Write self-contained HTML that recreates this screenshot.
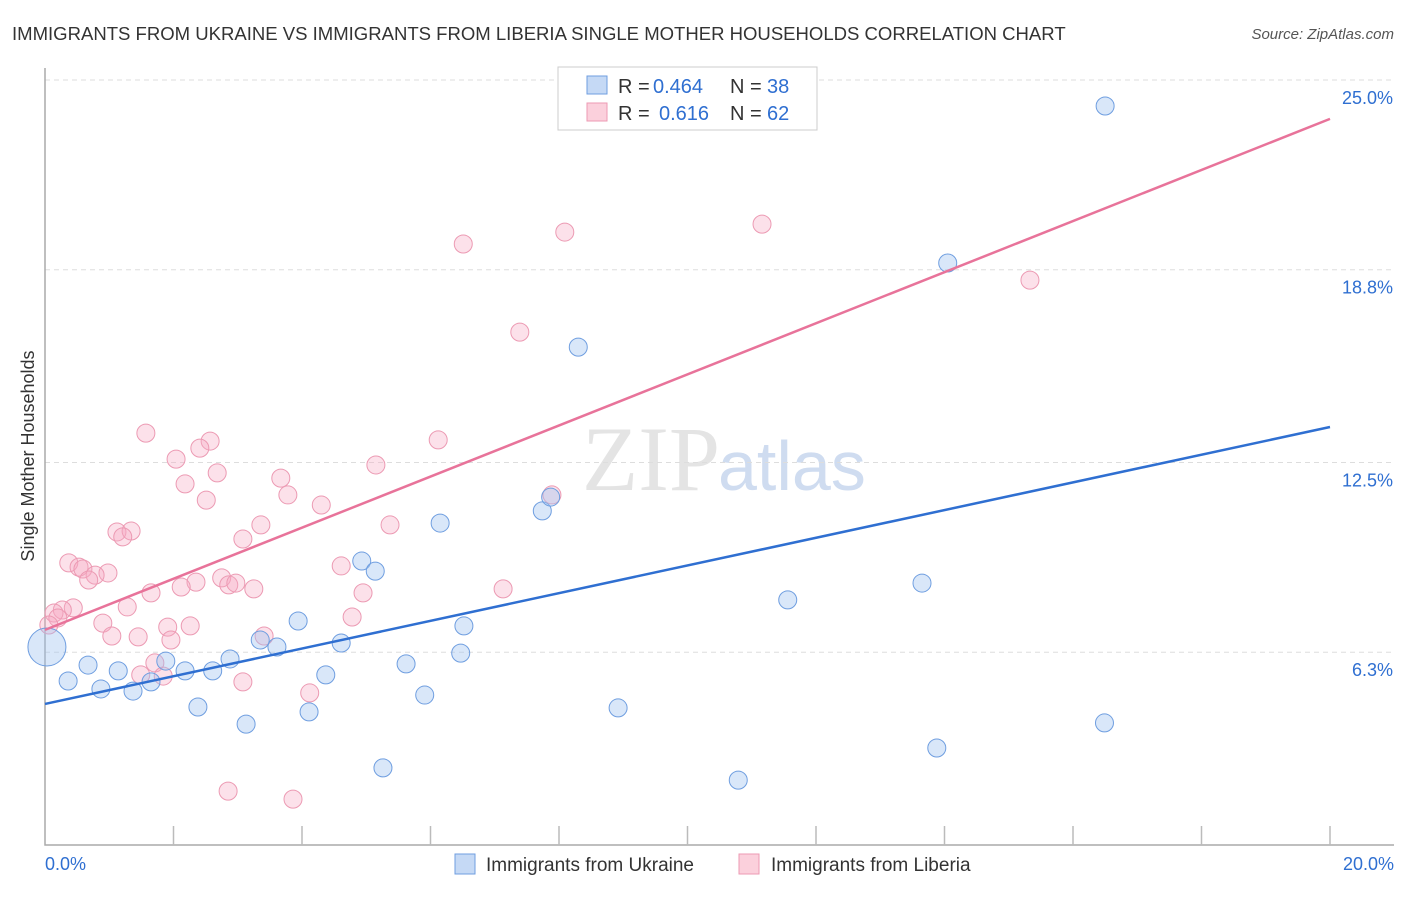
<!DOCTYPE html>
<html><head><meta charset="utf-8"><style>
body{margin:0;background:#fff;font-family:"Liberation Sans",Arial,sans-serif;}
svg text{font-family:"Liberation Sans",Arial,sans-serif;}
</style></head><body>
<svg id="c" width="1406" height="892" xmlns="http://www.w3.org/2000/svg">
<text x="12" y="40" font-size="18.55" fill="#333">IMMIGRANTS FROM UKRAINE VS IMMIGRANTS FROM LIBERIA SINGLE MOTHER HOUSEHOLDS CORRELATION CHART</text>
<text x="1394" y="39" font-size="15" fill="#555" font-style="italic" text-anchor="end">Source: ZipAtlas.com</text>
<text x="720" y="490" font-size="92" fill="#e4e4e4" text-anchor="end" style="font-family:'Liberation Serif',serif">ZIP</text>
<text x="718" y="490" font-size="70" fill="#cfdcf0">atlas</text>
<text transform="translate(34,456) rotate(-90)" font-size="18" fill="#333" text-anchor="middle">Single Mother Households</text>
<g id="grid"></g><g id="axes"></g><g id="pts"></g><g id="lines"></g>
<g>
<rect x="558" y="67" width="259" height="63" fill="#fff" stroke="#ccc"/>
<rect x="587" y="76" width="20" height="18" fill="#c5d9f5" stroke="#6f9ee0"/>
<rect x="587" y="103" width="20" height="18" fill="#fbd0dc" stroke="#ec9ab3"/>
<text x="618" y="93" font-size="20" fill="#333">R =</text>
<text x="653" y="93" font-size="20" fill="#2f6fd1">0.464</text>
<text x="730" y="93" font-size="20" fill="#333">N =</text>
<text x="767" y="93" font-size="20" fill="#2f6fd1">38</text>
<text x="618" y="120" font-size="20" fill="#333">R =</text>
<text x="659" y="120" font-size="20" fill="#2f6fd1">0.616</text>
<text x="730" y="120" font-size="20" fill="#333">N =</text>
<text x="767" y="120" font-size="20" fill="#2f6fd1">62</text>
</g>
<g>
<rect x="455" y="854" width="20" height="20" fill="#c5d9f5" stroke="#6f9ee0"/>
<text x="486" y="871" font-size="19" fill="#333">Immigrants from Ukraine</text>
<rect x="739" y="854" width="20" height="20" fill="#fbd0dc" stroke="#ec9ab3"/>
<text x="771" y="871" font-size="19" fill="#333">Immigrants from Liberia</text>
</g>
</svg>
<script>
const yTicks=[25.0,18.8,12.5,6.3];
const yTickLabels=["25.0%","18.8%","12.5%","6.3%"];
const xTickLabels=["0.0%","20.0%"];
const ukraineX=[16.50,14.05,8.30,6.15,7.74,7.87,4.93,5.14,13.65,11.56,3.94,6.52,3.35,3.61,4.61,6.47,0.03,0.67,1.14,1.88,2.18,2.61,2.88,5.62,0.36,0.87,1.37,1.65,4.37,5.91,2.38,4.11,3.13,8.92,16.49,13.88,5.26,10.79];
const ukraineY=[24.15,19.02,16.27,10.52,10.92,11.37,9.28,8.95,8.56,8.01,7.32,7.16,6.70,6.47,6.60,6.27,6.47,5.88,5.69,6.01,5.69,5.69,6.08,5.92,5.36,5.10,5.03,5.33,5.56,4.90,4.51,4.35,3.95,4.48,3.99,3.17,2.52,2.12];
const liberiaX=[11.16,8.09,6.51,15.33,7.39,1.57,2.57,6.12,2.41,2.04,5.15,2.68,3.67,2.18,3.78,2.51,4.30,3.36,5.37,1.12,1.34,1.21,3.08,0.37,0.53,0.59,0.98,0.78,0.68,4.61,2.75,2.35,2.12,2.86,2.97,3.25,1.65,4.95,7.13,1.28,0.44,0.27,0.14,0.20,0.06,0.90,4.78,1.91,2.26,1.04,1.45,1.96,3.41,1.71,1.49,1.84,3.08,4.12,7.89,2.85,3.86];
const liberiaY=[20.29,20.03,19.64,18.46,16.76,13.46,13.20,13.24,12.97,12.61,12.42,12.16,11.99,11.80,11.44,11.27,11.11,10.46,10.46,10.23,10.26,10.07,10.00,9.22,9.08,9.02,8.89,8.82,8.66,9.12,8.73,8.59,8.43,8.50,8.56,8.37,8.24,8.24,8.37,7.78,7.75,7.68,7.58,7.42,7.19,7.25,7.45,7.12,7.16,6.83,6.80,6.70,6.83,5.95,5.56,5.52,5.33,4.97,11.44,1.76,1.50];
const ukraineTrend=[4.61,13.66];
const liberiaTrend=[7.03,23.73];
const NS="http://www.w3.org/2000/svg";
const X=v=>45+v*64.25, Y=v=>845-v*30.6;
function mk(t,a,p){const e=document.createElementNS(NS,t);for(const k in a)e.setAttribute(k,a[k]);p.appendChild(e);return e;}
const grid=document.getElementById('grid'),axes=document.getElementById('axes'),pts=document.getElementById('pts'),lines=document.getElementById('lines');
yTicks.forEach((v,i)=>{
 const l=mk('line',{x1:45,x2:1394,y1:Y(v),y2:Y(v),stroke:'#ddd','stroke-dasharray':'5,4'},grid);
 
 
 const t=mk('text',{x:1393,y:Y(v)+24,'font-size':18,fill:'#2f6fd1','text-anchor':'end'},axes);t.textContent=yTickLabels[i];
 
 
});
const ax=mk('path',{d:'M45,68V845H1394',fill:'none',stroke:'#aaa','stroke-width':1.5},axes);


for(let i=1;i<=10;i++){const tk=mk('line',{x1:X(i*2),x2:X(i*2),y1:826,y2:845,stroke:'#bbb','stroke-width':1.5},axes);
 
 }
[[0,'start',45],[1,'end',1394]].forEach(([i,a,x])=>{const t=mk('text',{x:x,y:870,'font-size':18,fill:'#2f6fd1','text-anchor':a},axes);t.textContent=xTickLabels[i];
 
 });
liberiaX.forEach((v,i)=>{const c=mk('circle',{cx:X(v),cy:Y(liberiaY[i]),r:9,fill:'rgba(246,170,195,0.35)',stroke:'#ec9ab3','stroke-width':1},pts);
 
 });
ukraineX.forEach((v,i)=>{const c=mk('circle',{cx:X(v),cy:Y(ukraineY[i]),r:i===16?19:9,fill:'rgba(160,195,240,0.4)',stroke:'#6f9ee0','stroke-width':1},pts);
 
 });
const bl=mk('line',{x1:X(0),y1:Y(ukraineTrend[0]),x2:X(20),y2:Y(ukraineTrend[1]),stroke:'#2f6fd1','stroke-width':2.5},lines);


const pl=mk('line',{x1:X(0),y1:Y(liberiaTrend[0]),x2:X(20),y2:Y(liberiaTrend[1]),stroke:'#e8739a','stroke-width':2.5},lines);


</script>
</body></html>
